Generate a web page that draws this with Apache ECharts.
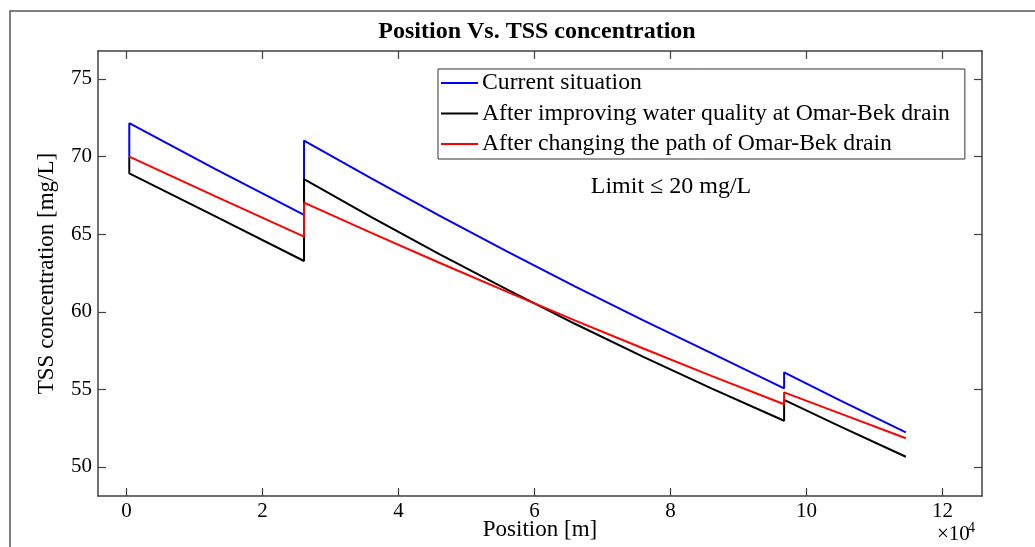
<!DOCTYPE html>
<html>
<head>
<meta charset="utf-8">
<script src="https://cdn.jsdelivr.net/npm/echarts@6/dist/echarts.min.js"></script>
<style>html,body{margin:0;padding:0;background:#fff}#c{width:1035px;height:547px}</style>
</head>
<body>
<div id="c"></div>
<script>
// Position along the drain [m]
const position = [400, 400, 13000, 26100, 26100, 36000, 46000, 56000, 66000, 76000, 86000, 96700, 96700, 105000, 114600];
// TSS concentration [mg/L]
const currentSituation = [70.0, 72.15, 69.2, 66.24, 71.03, 68.59, 66.20, 63.87, 61.62, 59.44, 57.33, 55.07, 56.10, 54.27, 52.23];
const improvedQuality  = [70.0, 68.92, 66.16, 63.27, 68.54, 66.10, 63.71, 61.42, 59.21, 57.09, 55.06, 52.98, 54.32, 52.60, 50.66];
const changedPath      = [70.0, 69.95, 67.45, 64.84, 67.03, 65.08, 63.16, 61.28, 59.43, 57.63, 55.87, 54.04, 54.81, 53.44, 51.85];

const seriesNames = ['Current situation', 'After improving water quality at Omar-Bek drain', 'After changing the path of Omar-Bek drain'];
const xTicks = [0, 20000, 40000, 60000, 80000, 100000, 120000];
const yTicks = [50, 55, 60, 65, 70, 75];

const FONT = '"Liberation Serif", "Times New Roman", serif';
const AX = '#404040';

function pairs(ys) { return position.map((x, i) => [x, ys[i]]); }

const chart = echarts.init(document.getElementById('c'), null, {renderer: 'canvas'});
const baseX = {
  type: 'value', min: -4200, max: 125800,
  axisLine: {show: true, onZero: false, lineStyle: {color: AX, width: 1.5}},
  axisTick: {show: true, inside: true, length: 8, customValues: xTicks, lineStyle: {color: AX, width: 1.2}},
  splitLine: {show: false}
};
const baseY = {
  type: 'value', min: 48.13, max: 76.8,
  axisLine: {show: true, onZero: false, lineStyle: {color: AX, width: 1.5}},
  axisTick: {show: true, inside: true, length: 8, customValues: yTicks, lineStyle: {color: AX, width: 1.2}},
  splitLine: {show: false}
};
chart.setOption({
  animation: false,
  title: {
    text: 'Position Vs. TSS concentration', left: 532, top: 15, textAlign: 'center',
    textStyle: {fontFamily: FONT, fontWeight: 'bold', fontSize: 24, color: '#000'}
  },
  grid: {left: 98, top: 51, right: 53, bottom: 51, containLabel: false, outerBoundsMode: 'none'},
  legend: {
    left: 438, top: 69, orient: 'vertical', icon: 'rect', itemWidth: 37, itemHeight: 2, itemGap: 6.5,
    padding: [2, 15, 3, 3], borderColor: '#333', borderWidth: 1, backgroundColor: '#fff',
    textStyle: {fontFamily: FONT, fontSize: 23.7, color: '#000', padding: [0, 0, 0, -1], lineHeight: 24},
    data: seriesNames
  },
  xAxis: [
    Object.assign({}, baseX, {
      position: 'bottom',
      axisLabel: {show: true, customValues: xTicks, margin: 5, fontFamily: FONT, fontSize: 21, color: '#000',
        formatter: v => String(Math.round(v / 10000))},
      name: 'Position [m]', nameLocation: 'middle', nameGap: 22, nameMoveOverlap: false,
      nameTextStyle: {fontFamily: FONT, fontSize: 23, color: '#000'}
    }),
    Object.assign({}, baseX, {position: 'top', axisLabel: {show: false}})
  ],
  yAxis: [
    Object.assign({}, baseY, {
      position: 'left',
      axisLabel: {show: true, customValues: yTicks, margin: 6, fontFamily: FONT, fontSize: 21, color: '#000'},
      name: 'TSS concentration [mg/L]', nameLocation: 'middle', nameGap: 40, nameMoveOverlap: false,
      nameTextStyle: {fontFamily: FONT, fontSize: 23, color: '#000'}
    }),
    Object.assign({}, baseY, {position: 'right', axisLabel: {show: false}})
  ],
  series: [
    {name: seriesNames[0], type: 'line', data: pairs(currentSituation), symbol: 'none', lineStyle: {color: '#0000ff', width: 2}, itemStyle: {color: '#0000ff'}},
    {name: seriesNames[1], type: 'line', data: pairs(improvedQuality), symbol: 'none', lineStyle: {color: '#000000', width: 2}, itemStyle: {color: '#000000'}},
    {name: seriesNames[2], type: 'line', data: pairs(changedPath), symbol: 'none', lineStyle: {color: '#ff0000', width: 2}, itemStyle: {color: '#ff0000'}}
  ],
  graphic: [
    {type: 'rect', shape: {x: 10, y: 11, width: 1200, height: 700}, style: {fill: null, stroke: '#555', lineWidth: 1.5}, silent: true},
    {type: 'text', x: 671, y: 187, style: {text: 'Limit \u2264 20 mg/L', fontFamily: FONT, fontSize: 24, fill: '#000', textAlign: 'center', textVerticalAlign: 'middle'}},
    {type: 'text', x: 937, y: 545, style: {text: '\u00d710', fontFamily: FONT, fontSize: 21, fill: '#000', textAlign: 'left', textVerticalAlign: 'bottom'}},
    {type: 'text', x: 968, y: 535, style: {text: '4', fontFamily: FONT, fontSize: 14, fill: '#000', textAlign: 'left', textVerticalAlign: 'bottom'}}
  ]
});
</script>
</body>
</html>
